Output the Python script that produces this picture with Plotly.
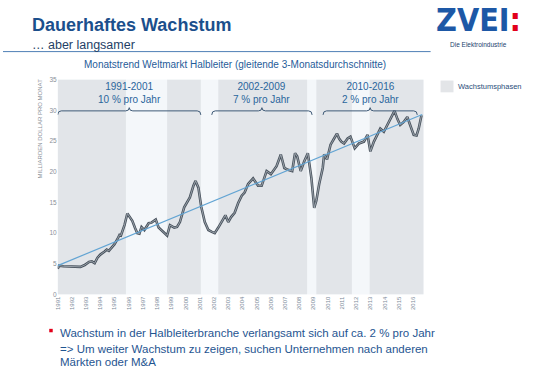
import plotly.graph_objects as go

# ---------------- data ----------------
years = [1991.00, 1991.10, 1991.40, 1991.80, 1992.10, 1992.30, 1992.60, 1992.90, 1993.20, 1993.40,
         1993.60, 1993.80, 1994.00, 1994.30, 1994.45, 1994.60, 1994.80, 1995.00, 1995.20, 1995.35,
         1995.45, 1995.70, 1995.90, 1996.00, 1996.25, 1996.45, 1996.60, 1996.75, 1996.90, 1997.10,
         1997.40, 1997.60, 1997.90, 1998.10, 1998.50, 1998.70, 1998.90, 1999.20, 1999.40, 1999.60,
         1999.90, 2000.10, 2000.30, 2000.55, 2000.70, 2000.90, 2001.10, 2001.35, 2001.60, 2001.85,
         2002.05, 2002.30, 2002.50, 2002.80, 2003.00, 2003.20, 2003.45, 2003.70, 2003.95, 2004.15,
         2004.40, 2004.75, 2005.10, 2005.35, 2005.70, 2006.00, 2006.40, 2006.70, 2006.95, 2007.20,
         2007.50, 2007.70, 2007.85, 2008.10, 2008.35, 2008.60, 2008.85, 2009.05, 2009.20, 2009.40,
         2009.65, 2009.75, 2009.95, 2010.20, 2010.45, 2010.65, 2010.80, 2010.95, 2011.15, 2011.40,
         2011.60, 2011.90, 2012.20, 2012.55, 2012.80, 2013.00, 2013.25, 2013.50, 2013.70, 2013.95,
         2014.20, 2014.50, 2014.70, 2014.90, 2015.10, 2015.35, 2015.60, 2015.80, 2016.05, 2016.25,
         2016.40, 2016.60]
values = [4.2, 4.7, 4.6, 4.6, 4.5, 4.6, 4.5, 4.8, 5.3, 5.4,
          5.1, 6.0, 6.5, 7.0, 7.3, 7.1, 7.6, 8.2, 9.0, 9.7,
          9.6, 11.3, 13.2, 12.8, 12.0, 10.8, 10.0, 9.9, 11.0, 10.5,
          11.6, 11.7, 12.2, 10.9, 10.0, 9.6, 11.3, 10.9, 11.0, 11.8,
          14.2, 15.0, 15.8, 17.7, 18.5, 17.4, 14.3, 11.8, 10.5, 10.2,
          10.0, 10.9, 11.8, 12.9, 11.8, 12.6, 13.3, 14.9, 16.1, 16.6,
          18.0, 18.9, 17.7, 17.7, 20.1, 19.6, 20.9, 22.8, 20.6, 20.3,
          20.1, 23.0, 22.5, 20.1, 21.7, 23.0, 19.0, 14.1, 15.3, 18.0,
          20.6, 22.8, 22.0, 24.4, 25.4, 26.2, 25.4, 24.9, 24.6, 25.4,
          25.7, 23.8, 24.6, 24.9, 26.0, 23.3, 24.9, 26.0, 27.0, 26.5,
          27.6, 28.9, 29.9, 28.6, 27.6, 28.1, 28.9, 27.6, 26.0, 25.9,
          27.0, 29.2]

trend_years = [1991.0, 2016.65]
trend_values = [4.7, 29.3]

# growth phases (shaded bands)
phase_starts = [1991.0, 1998.7, 2002.3, 2009.2, 2012.95]
phase_ends = [1995.8, 2001.07, 2008.55, 2011.7, 2016.75]

# annotated periods
period_labels = ["1991-2001", "2002-2009", "2010-2016"]
period_rates = ["10 % pro Jahr", "7 % pro Jahr", "2 % pro Jahr"]
period_starts = [1991.0, 2001.84, 2009.67]
period_ends = [2001.07, 2008.9, 2016.3]

tick_years = list(range(1991, 2017))
tick_labels = [str(y) for y in tick_years]
y_ticks = [0, 5, 10, 15, 20, 25, 30, 35]

# ---------------- figure ----------------
W, H = 540, 376
def px(x):
    return x / W
def py(y):
    return 1 - y / H

FONT = "Liberation Sans, Arial, sans-serif"
fig = go.Figure()

fig.add_trace(go.Scatter(x=years, y=values, mode="lines",
                         line=dict(color="#48525d", width=2.6), hoverinfo="skip"))
fig.add_trace(go.Scatter(x=years, y=values, mode="lines",
                         line=dict(color="#adb5bd", width=0.8), hoverinfo="skip"))
fig.add_trace(go.Scatter(x=trend_years, y=trend_values, mode="lines",
                         line=dict(color="#62a4d3", width=1.2), hoverinfo="skip"))

for s, e in zip(phase_starts, phase_ends):
    fig.add_shape(type="rect", xref="x", yref="y", x0=s, x1=e, y0=0, y1=35,
                  fillcolor="#e2e5e9", line=dict(width=0), layer="below")

by = 29.9
h = 0.65
r = 0.25
for lab, rate, s, e in zip(period_labels, period_rates, period_starts, period_ends):
    c = (s + e) / 2
    path = (f"M{s},{by-h} Q{s},{by} {s+r},{by} L{c-r},{by} Q{c},{by} {c},{by+h*0.8} "
            f"Q{c},{by} {c+r},{by} L{e-r},{by} Q{e},{by} {e},{by-h}")
    fig.add_shape(type="path", xref="x", yref="y", path=path,
                  line=dict(color="#3f5a77", width=1))
    fig.add_annotation(x=c, y=32.8, xref="x", yref="y", text=f"{lab}<br>{rate}",
                       showarrow=False, font=dict(family=FONT, size=10, color="#2a659c"),
                       align="center")

# header
fig.add_annotation(x=px(27), y=py(21), xref="paper", yref="paper", xanchor="left", yanchor="middle",
                   text="<b>Dauerhaftes Wachstum</b>", showarrow=False,
                   font=dict(family=FONT, size=18, color="#1b4f8c"))
fig.add_annotation(x=px(27), y=py(42), xref="paper", yref="paper", xanchor="left", yanchor="middle",
                   text="… aber langsamer", showarrow=False,
                   font=dict(family=FONT, size=12.5, color="#1f3f66"))
fig.add_shape(type="line", xref="paper", yref="paper", x0=0, x1=px(430), y0=py(48.5), y1=py(48.5),
              line=dict(color="#4f7fb5", width=1))

# logo
fig.add_annotation(x=px(478), y=py(16), xref="paper", yref="paper", xanchor="center", yanchor="middle",
                   text="<b>ZVEI<span style='color:#e2001a'>:</span></b>", showarrow=False,
                   font=dict(family="DejaVu Sans Condensed, Liberation Sans Narrow, Liberation Sans, Arial",
                             size=32, color="#1d58a6"))
fig.add_annotation(x=px(478), y=py(41), xref="paper", yref="paper", xanchor="center", yanchor="middle",
                   text="Die Elektroindustrie", showarrow=False,
                   font=dict(family=FONT, size=6.5, color="#1c3f6e"))

# chart title
fig.add_annotation(x=px(233), y=py(62), xref="paper", yref="paper", xanchor="center", yanchor="middle",
                   text="Monatstrend Weltmarkt Halbleiter (gleitende 3-Monatsdurchschnitte)", showarrow=False,
                   font=dict(family=FONT, size=10, color="#1f5c99"))

# legend
fig.add_shape(type="rect", xref="paper", yref="paper", x0=px(440), x1=px(453), y0=py(90), y1=py(78),
              fillcolor="#e3e5e8", line=dict(width=0))
fig.add_annotation(x=px(456), y=py(84), xref="paper", yref="paper", xanchor="left", yanchor="middle",
                   text="Wachstumsphasen", showarrow=False,
                   font=dict(family=FONT, size=7.5, color="#2a4e7a"))

# y-axis title
fig.add_annotation(x=px(37), y=py(127), xref="paper", yref="paper", xanchor="center", yanchor="middle",
                   text="MILLIARDEN DOLLAR PRO MONAT", textangle=-90, showarrow=False,
                   font=dict(family=FONT, size=6, color="#8a9098"))

# bottom text
fig.add_shape(type="rect", xref="paper", yref="paper", x0=px(46.5), x1=px(50), y0=py(334.5), y1=py(331),
              fillcolor="#e2001a", line=dict(width=0))
fig.add_annotation(x=px(55), y=py(335), xref="paper", yref="paper", xanchor="left", yanchor="middle",
                   text="Wachstum in der Halbleiterbranche verlangsamt sich auf ca. 2 % pro Jahr",
                   showarrow=False, font=dict(family=FONT, size=11.5, color="#1f5591"))
fig.add_annotation(x=px(55), y=py(352), xref="paper", yref="paper", xanchor="left", yanchor="middle",
                   text="=> Um weiter Wachstum zu zeigen, suchen Unternehmen nach anderen",
                   showarrow=False, font=dict(family=FONT, size=11.5, color="#1f5591"))
fig.add_annotation(x=px(55), y=py(364.5), xref="paper", yref="paper", xanchor="left", yanchor="middle",
                   text="Märkten oder M&A",
                   showarrow=False, font=dict(family=FONT, size=11.5, color="#1f5591"))

fig.update_layout(
    width=W, height=H, margin=dict(l=0, r=0, t=0, b=0),
    paper_bgcolor="white", plot_bgcolor="#f4f7fa", showlegend=False,
    xaxis=dict(domain=[px(55), px(423)], range=[1991, 2016.75], tickmode="array",
               tickvals=tick_years, ticktext=tick_labels, tickangle=-90, showgrid=False,
               zeroline=False, showline=False, ticks="",
               tickfont=dict(family=FONT, size=6, color="#7b8a99")),
    yaxis=dict(domain=[py(296), py(77)], range=[0, 35], tickmode="array", tickvals=y_ticks,
               showgrid=False, zeroline=False, showline=False, ticks="",
               tickfont=dict(family=FONT, size=6.5, color="#8a9098")),
)

fig.write_html("out.html", config={"displayModeBar": False, "staticPlot": True},
               post_script="document.body.style.margin='0px';")
